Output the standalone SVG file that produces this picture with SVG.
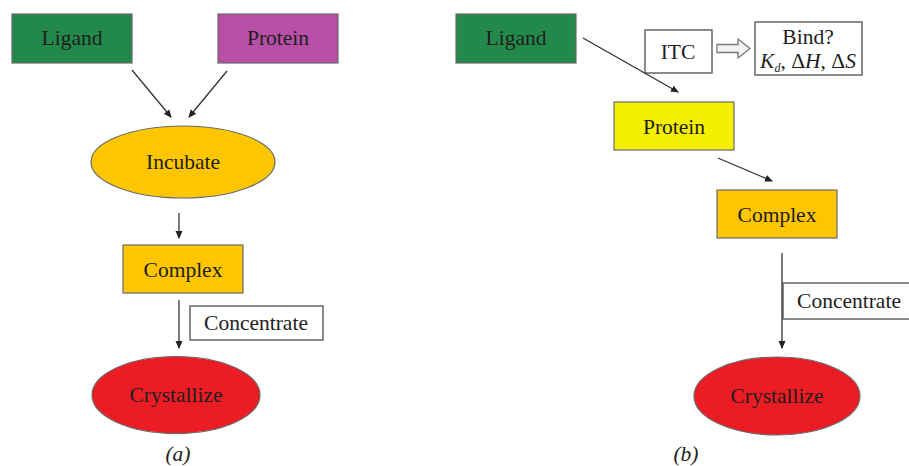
<svg xmlns="http://www.w3.org/2000/svg" width="909" height="466" viewBox="0 0 909 466">
<style>
  .lbl { font-family: "Liberation Serif", "Times New Roman", serif; font-size: 21.5px; fill: #1e1e1e; text-anchor: middle; }
  .it { font-style: italic; }
  .box { stroke: #6a6a6a; stroke-width: 1.2; }
  .wbox { fill: #ffffff; stroke: #666; stroke-width: 1.5; }
  .edge { stroke: #333; stroke-width: 1.3; fill: none; marker-end: url(#ah); }
</style>
<defs>
  <marker id="ah" markerWidth="8" markerHeight="8" refX="7" refY="4" orient="auto" markerUnits="userSpaceOnUse">
    <path d="M0,0.5 L8,4 L0,7.5 Z" fill="#222"/>
  </marker>
</defs>
<rect width="909" height="466" fill="#ffffff"/>

<!-- Panel (a) -->
<g id="a-ligand"><rect class="box" x="12" y="14" width="120" height="49" fill="#23894a"/><text class="lbl" x="72" y="45">Ligand</text></g>
<g id="a-protein"><rect class="box" x="218" y="14" width="120" height="49" fill="#b84fa6"/><text class="lbl" x="278" y="45">Protein</text></g>
<g id="a-incubate"><ellipse class="box" cx="183" cy="162" rx="92" ry="36" fill="#fdc600"/><text class="lbl" x="183" y="169">Incubate</text></g>
<g id="a-complex"><rect class="box" x="123" y="245" width="120" height="48" fill="#fdc600"/><text class="lbl" x="183" y="277">Complex</text></g>
<g id="a-concentrate"><rect class="wbox" x="190" y="306" width="133" height="34"/><text class="lbl" x="256" y="330">Concentrate</text></g>
<g id="a-crystallize"><ellipse class="box" cx="176" cy="395" rx="84" ry="38.5" fill="#ec1c24"/><text class="lbl" x="176" y="402">Crystallize</text></g>
<text class="lbl it" x="178" y="461" font-size="16">(a)</text>

<!-- Panel (b) -->
<g id="b-ligand"><rect class="box" x="456" y="14" width="120" height="49" fill="#23894a"/><text class="lbl" x="516" y="45">Ligand</text></g>
<g id="b-itc"><rect class="wbox" x="645" y="30" width="67" height="43"/><text class="lbl" x="678" y="59">ITC</text></g>
<g id="b-bind"><rect class="wbox" x="755" y="22" width="107" height="53"/><text class="lbl" x="808" y="44">Bind?</text><text class="lbl" x="808" y="68"><tspan class="it">K</tspan><tspan class="it" font-size="12" dy="4">d</tspan><tspan dy="-4">, Δ</tspan><tspan class="it">H</tspan>, Δ<tspan class="it">S</tspan></text></g>
<g id="b-protein"><rect class="box" x="614" y="102" width="120" height="48" fill="#f5ef00"/><text class="lbl" x="674" y="134">Protein</text></g>
<g id="b-complex"><rect class="box" x="717" y="190" width="120" height="48" fill="#fdc600"/><text class="lbl" x="777" y="222">Complex</text></g>
<g id="b-concentrate"><rect class="wbox" x="783" y="283" width="130" height="36"/><text class="lbl" x="849" y="308">Concentrate</text></g>
<g id="b-crystallize"><ellipse class="box" cx="777" cy="396" rx="83" ry="39" fill="#ec1c24"/><text class="lbl" x="777" y="403">Crystallize</text></g>
<text class="lbl it" x="686" y="461" font-size="16">(b)</text>

<g id="connectors">
  <line class="edge" x1="132" y1="70" x2="171" y2="117"/>
  <line class="edge" x1="227" y1="71" x2="189" y2="117"/>
  <line class="edge" x1="179" y1="213" x2="179" y2="238"/>
  <line class="edge" x1="179" y1="300" x2="179" y2="348"/>
  <line class="edge" x1="583" y1="38" x2="678" y2="92"/>
  <line class="edge" x1="718" y1="158" x2="772" y2="181"/>
  <line class="edge" x1="782" y1="253" x2="782" y2="348"/>
  <path d="M717,44.5 H738 V39 L750,48.5 L738,58 V52.5 H717 Z" fill="#f2f2f4" stroke="#777" stroke-width="1.3"/>
</g>
</svg>
